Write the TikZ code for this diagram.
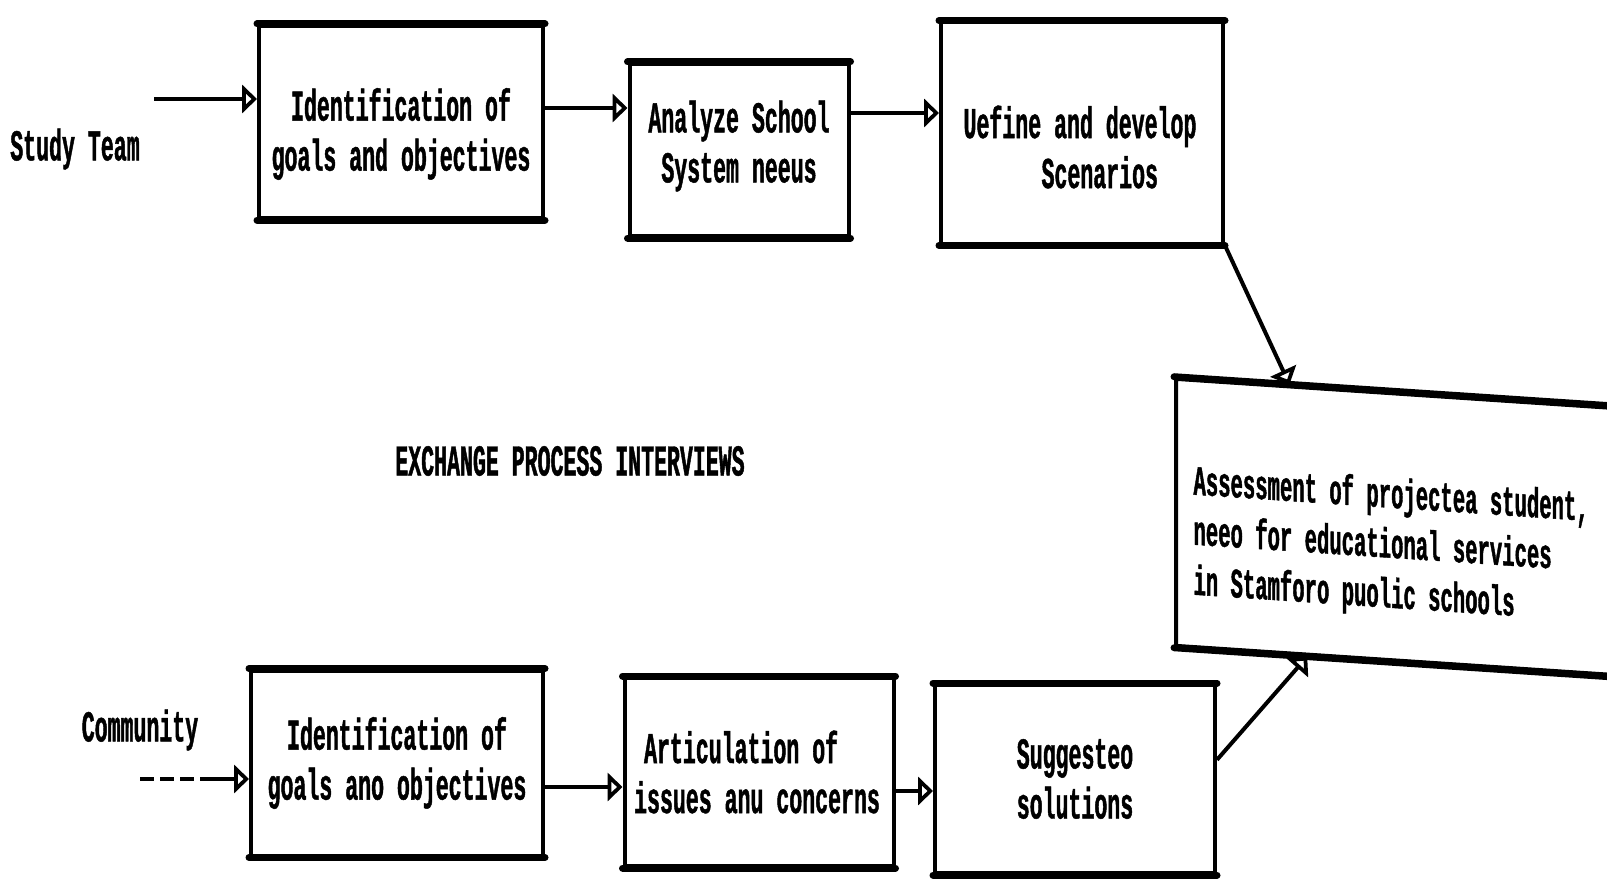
\documentclass[tikz,border=0pt]{standalone}
\usepackage{fontspec}
\usetikzlibrary{arrows.meta,calc}
% condensed typewriter face for all labels
\newfontfamily\scanfont[FakeStretch=0.49,FakeBold=1]{Liberation Mono Bold}
\begin{document}
\begin{tikzpicture}[x=1pt,y=-1pt,
  every node/.style={font=\scanfont\fontsize{44}{50}\selectfont},
  stage/.style={draw, line width=4pt, inner sep=0pt},
  caption/.style={align=center},
  rim/.style={line width=7pt, line cap=round},
  flow/.style={line width=4pt, -{Triangle[open,length=15pt,width=28pt]}},
  feed/.style={line width=4pt, dash pattern=on 14pt off 6pt}]
\useasboundingbox (0,0) rectangle (1607,888);

% upper chain: study team
\node[stage, minimum width=284pt, minimum height=192pt,
  label={[caption,yshift=-12pt]center:Identification of\\goals and objectives}] (b1) at (401,122) {};
\node[stage, minimum width=219pt, minimum height=172pt,
  label={[caption,yshift=4pt]center:Analyze School\\System neeus}] (b2) at (739,150) {};
\node[stage, minimum width=282pt, minimum height=221pt,
  label={[caption,align=left,yshift=-14pt,xshift=-2pt]center:Uefine and develop\\\hspace*{78pt}Scenarios}] (b3) at (1082,133) {};

% lower chain: community
\node[stage, minimum width=292pt, minimum height=185pt,
  label={[caption]center:Identification of\\goals ano objectives}] (b4) at (397,763) {};
\node[stage, minimum width=269pt, minimum height=188pt,
  label={[caption,align=left,xshift=-2pt]center:\hspace*{10pt}Articulation of\\issues anu concerns}] (b5) at (759,772) {};
\node[stage, minimum width=280pt, minimum height=188pt,
  label={[caption]center:Suggesteo\\solutions}] (b6) at (1075,779) {};

% joint outcome box, skewed with the page
\node[stage, minimum width=440pt, minimum height=267pt, yslant=-0.0665] (assess) at (1396,527) {};
\node[yslant=-0.0665, anchor=west, align=left, font=\scanfont\fontsize{42}{50}\selectfont]
  (assesstxt) at ($(assess.west)+(16,21)$)
  {Assessment of projectea student,\\neeo for educational services\\in Stamforo puolic schools};

% heavy top and bottom rules of every box
\foreach \n in {b1,b2,b3,b4,b5,b6,assess}
  \draw[rim] (\n.north west) -- (\n.north east) (\n.south west) -- (\n.south east);

% free labels
\node (team) at (75,149) {Study Team};
\node (comm) at (140,730) {Community};
\node (xchg) at (570,461) {EXCHANGE PROCESS INTERVIEWS};

% row levels of the horizontal connectors
\coordinate (r0) at (154,99);
\coordinate (r1) at (0,108);
\coordinate (r2) at (0,113);
\coordinate (s0) at (140,779);
\coordinate (s1) at (205,779);
\coordinate (s2) at (0,787);
\coordinate (s3) at (0,791);

\draw[flow] (r0) -- (b1.west |- r0);
\draw[flow] (b1.east |- r1) -- (b2.west |- r1);
\draw[flow] (b2.east |- r2) -- (b3.west |- r2);

\draw[feed] (s0) -- (s1);
\draw[flow] (s1) -- (b4.west |- s1);
\draw[flow] (b4.east |- s2) -- (b5.west |- s2);
\draw[flow] (b5.east |- s3) -- (b6.west |- s3);

% both chains feed the assessment
\draw[flow] (b3.south east) -- ($(assess.north west)!0.26!(assess.north east)$);
\draw[flow] ($(b6.north east)!0.4!(b6.south east)$) -- ($(assess.south west)!0.3!(assess.south east)$);
\end{tikzpicture}
\end{document}
